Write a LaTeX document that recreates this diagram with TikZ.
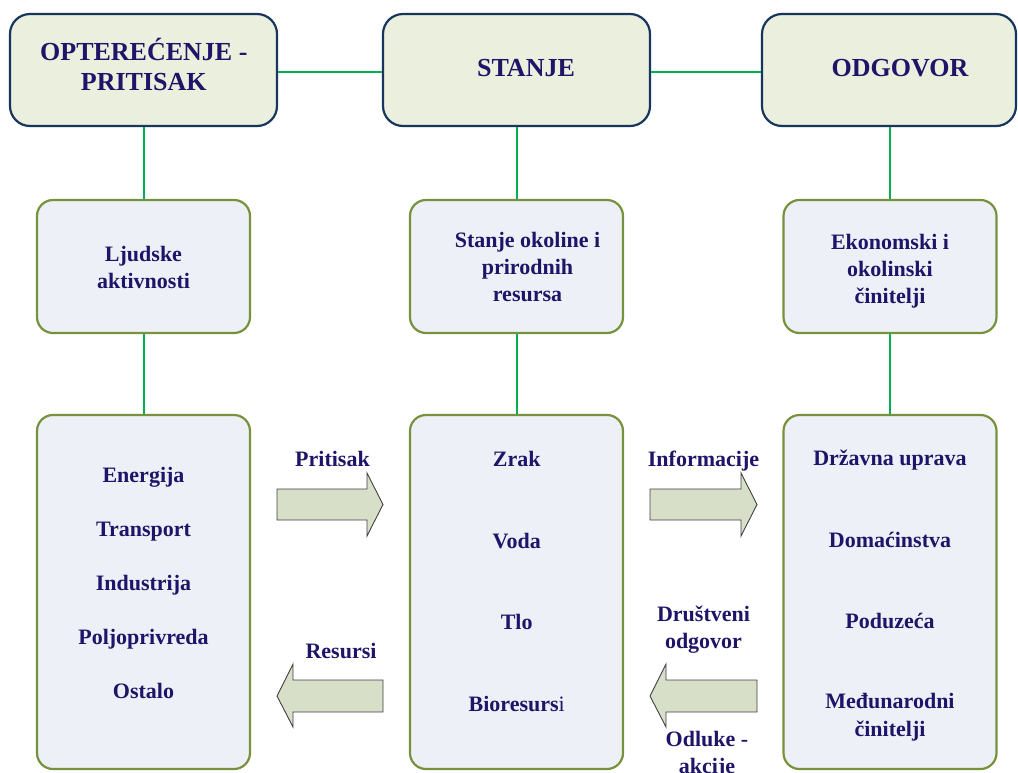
\documentclass[tikz,border=0pt]{standalone}
\usepackage{fontspec}
\setmainfont{Liberation Serif}
\definecolor{txtnavy}{RGB}{30,20,104}
\definecolor{topfill}{RGB}{235,239,222}
\definecolor{topdraw}{RGB}{23,54,93}
\definecolor{boxfill}{RGB}{237,240,246}
\definecolor{boxdraw}{RGB}{118,146,60}
\definecolor{linkgreen}{RGB}{0,176,80}
\definecolor{arrfill}{RGB}{216,223,200}
\definecolor{arrdraw}{RGB}{64,64,64}
\tikzset{
  topbox/.style={draw=topdraw, fill=topfill, line width=2.2pt, rounded corners=20pt, minimum width=#1, minimum height=112pt, inner sep=0pt},
  topbox/.default=267pt,
  midbox/.style={draw=boxdraw, fill=boxfill, line width=2.2pt, rounded corners=16pt, minimum width=213pt, minimum height=133pt, inner sep=0pt},
  lowbox/.style={draw=boxdraw, fill=boxfill, line width=2.2pt, rounded corners=16pt, minimum width=213pt, minimum height=354pt, inner sep=0pt},
  link/.style={draw=linkgreen, line width=2pt},
  fat/.style={draw=arrdraw, fill=arrfill, line width=0.9pt, line join=miter},
  ttl/.style={text=txtnavy, font=\fontsize{26}{31}\selectfont\bfseries, anchor=base, inner sep=0pt},
  txt/.style={text=txtnavy, font=\fontsize{22}{27}\selectfont\bfseries, anchor=base, inner sep=0pt},
}
\begin{document}
\begin{tikzpicture}[x=1pt, y=-1pt]
\useasboundingbox (0,0) rectangle (1018,772);
% top row
\node[topbox] (t1) at (143.5,70) {};
\node[topbox] (t2) at (516.5,70) {};
\node[topbox=254pt] (t3) at (889,70) {};
% middle row
\node[midbox] (m1) at (143.5,266.5) {};
\node[midbox] (m2) at (516.5,266.5) {};
\node[midbox] (m3) at (890,266.5) {};
% lower row
\node[lowbox] (b1) at (143.5,592) {};
\node[lowbox] (b2) at (516.5,592) {};
\node[lowbox] (b3) at (890,592) {};
% links
\draw[link] ([yshift=-2pt]t1.east) -- ([yshift=-2pt]t2.west);
\draw[link] ([yshift=-2pt]t2.east) -- ([yshift=-2pt]t3.west);
\draw[link] (t1.south) -- (m1.north);
\draw[link] (t2.south) -- (m2.north);
\draw[link] (m3.north |- t3.south) -- (m3.north);
\draw[link] (m1.south) -- (b1.north);
\draw[link] (m2.south) -- (b2.north);
\draw[link] (m3.south) -- (b3.north);
% titles
\node[ttl] (t1a) at (143.8,60) {OPTEREĆENJE -};
\node[ttl] (t1b) at (143.8,90.5) {PRITISAK};
\node[ttl] (t2a) at (526,76.5) {STANJE};
\node[ttl] (t3a) at (900,76.5) {ODGOVOR};
% middle row texts
\node[txt] (m1a) at (143.5,261) {Ljudske};
\node[txt] (m1b) at (143.5,288) {aktivnosti};
\node[txt] (m2a) at (527.5,247) {Stanje okoline i};
\node[txt] (m2b) at (527.5,274) {prirodnih};
\node[txt] (m2c) at (527.5,301) {resursa};
\node[txt] (m3a) at (890,249) {Ekonomski i};
\node[txt] (m3b) at (890,276) {okolinski};
\node[txt] (m3c) at (890,303) {činitelji};
% lower left
\node[txt] (e1) at (143.5,482) {Energija};
\node[txt] (e2) at (143.5,536) {Transport};
\node[txt] (e3) at (143.5,590) {Industrija};
\node[txt] (e4) at (143.5,644) {Poljoprivreda};
\node[txt] (e5) at (143.5,698) {Ostalo};
% lower middle
\node[txt] (s1) at (516.7,466) {Zrak};
\node[txt] (s2) at (516.7,548) {Voda};
\node[txt] (s3) at (516.7,629) {Tlo};
\node[txt] (s4) at (516.7,711) {Bioresurs{\mdseries i}};
% lower right
\node[txt] (r1) at (890,465) {Državna uprava};
\node[txt] (r2) at (890,547) {Domaćinstva};
\node[txt] (r3) at (890,628) {Poduzeća};
\node[txt] (r4) at (890,708) {Međunarodni};
\node[txt] (r5) at (890,736) {činitelji};
% block arrows
\draw[fat] (277,489) -- (367,489) -- (367,473) -- (383,504.5) -- (367,536) -- (367,520) -- (277,520) -- cycle;
\draw[fat] (650,489) -- (741,489) -- (741,473) -- (757,504.5) -- (741,536) -- (741,520) -- (650,520) -- cycle;
\draw[fat] (383,680) -- (293,680) -- (293,664) -- (277,696) -- (293,727) -- (293,712) -- (383,712) -- cycle;
\draw[fat] (757,680) -- (666,680) -- (666,664) -- (650,696) -- (666,727) -- (666,712) -- (757,712) -- cycle;
% arrow labels
\node[txt] (lp) at (332.5,466) {Pritisak};
\node[txt] (li) at (703.5,466) {Informacije};
\node[txt] (lr) at (341,658) {Resursi};
\node[txt] (ld1) at (703.5,621) {Društveni};
\node[txt] (ld2) at (703.5,648) {odgovor};
\node[txt] (lo1) at (707,746) {Odluke -};
\node[txt] (lo2) at (707,773) {akcije};
\end{tikzpicture}
\end{document}
